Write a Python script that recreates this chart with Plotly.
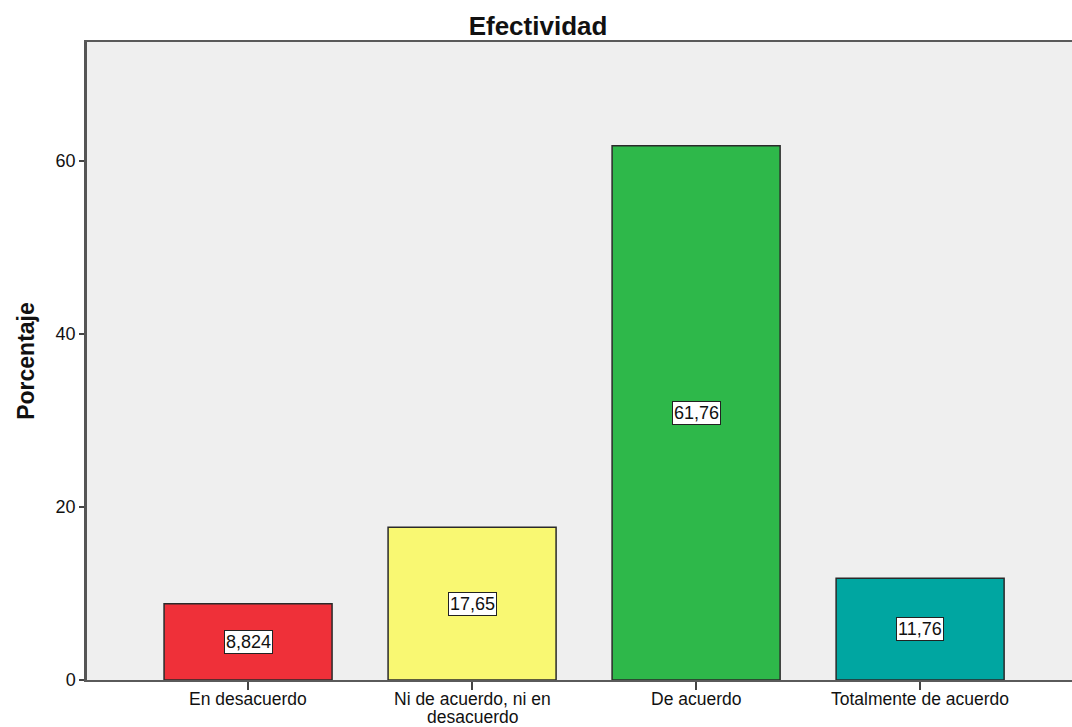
import plotly.graph_objects as go

# Efectividad: percentage of responses per category
categorias = ["En desacuerdo", "Ni de acuerdo, ni en\ndesacuerdo", "De acuerdo", "Totalmente de acuerdo"]
porcentajes = [8.824, 17.65, 61.76, 11.76]
colores = ["#EF3039", "#F9F872", "#2EB84A", "#00A6A1"]
y_ticks = [0, 20, 40, 60]

font_family = "Liberation Sans, Arial, sans-serif"
TEXT = "#111111"


def etiqueta(v):
    return f"{v:.4g}".replace(".", ",")


x_pos = list(range(len(categorias)))

fig = go.Figure()
fig.add_trace(go.Bar(
    x=x_pos,
    y=porcentajes,
    width=0.75,
    marker=dict(color=colores, line=dict(color="#2a2a2a", width=1.5)),
    hoverinfo="skip",
))

# value labels in boxed annotations at mid-height of each bar
for xi, v in zip(x_pos, porcentajes):
    fig.add_annotation(
        x=xi, y=v / 2, text=etiqueta(v), showarrow=False,
        font=dict(family=font_family, size=18, color=TEXT),
        bgcolor="white", bordercolor="#222", borderwidth=1, borderpad=1,
    )

# category labels under the axis, with tight line spacing for wrapped names
LINE_STEP = 18
for xi, cat in zip(x_pos, categorias):
    for k, linea in enumerate(cat.split("\n")):
        fig.add_annotation(
            x=xi, y=0, yref="y", text=linea, showarrow=False,
            xanchor="center", yanchor="top", yshift=-8 - k * LINE_STEP,
            font=dict(family=font_family, size=17.5, color=TEXT),
            borderpad=0,
        )

fig.update_layout(
    width=1072, height=727,
    margin=dict(l=87, r=0, t=42, b=47),
    paper_bgcolor="white",
    plot_bgcolor="#EFEFEF",
    showlegend=False,
    font=dict(family=font_family, size=18, color=TEXT),
    title=dict(
        text="<b>Efectividad</b>", x=538 / 1072, xanchor="center",
        y=1 - 26 / 727, yanchor="middle",
        font=dict(family=font_family, size=26, color=TEXT),
    ),
)

fig.update_xaxes(
    tickmode="array", tickvals=x_pos, ticktext=["" for _ in x_pos],
    range=[-0.719, 3.678],
    showline=True, linecolor="#5a5a5a", linewidth=2, mirror=True,
    ticks="outside", ticklen=8, tickwidth=2, tickcolor="#444",
    showgrid=False, zeroline=False,
    fixedrange=True,
)
fig.update_yaxes(
    tickmode="array", tickvals=y_ticks, ticktext=[str(t) for t in y_ticks],
    range=[0, 73.76],
    showline=True, linecolor="#555", linewidth=2.5,
    ticks="outside", ticklen=5, tickwidth=2, tickcolor="#444",
    showgrid=False, zeroline=False,
    title=dict(text="<b>Porcentaje</b>", standoff=15,
               font=dict(family=font_family, size=23, color=TEXT)),
    tickfont=dict(family=font_family, size=18, color=TEXT),
    fixedrange=True,
)

fig.write_html("out.html")
